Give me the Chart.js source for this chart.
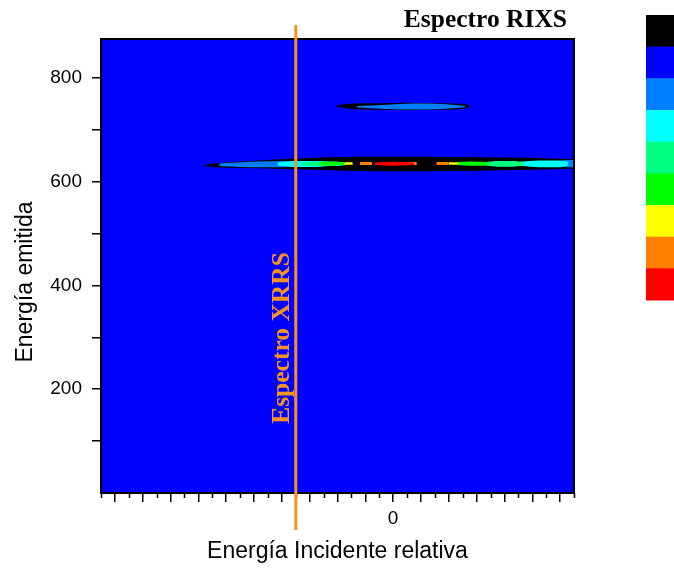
<!DOCTYPE html>
<html>
<head>
<meta charset="utf-8">
<script src="https://cdn.jsdelivr.net/npm/chart.js@4.4.1/dist/chart.umd.min.js"></script>
<style>
  html, body { margin: 0; padding: 0; background: #fff; }
</style>
</head>
<body>
<canvas id="rixsMap" width="674" height="569"></canvas>
<script>
// axis ticks
const yTicks = [100, 200, 300, 400, 500, 600, 700, 800];
const yLabels = [200, 400, 600, 800];
const xMajor = [-20, -18, -16, -14, -12, -10, -8, -6, -4, -2, 0, 2, 4, 6, 8, 10, 12];
const xMinor = [-21, -19, -17, -15, -13, -11, -9, -7, -5, -3, -1, 1, 3, 5, 7, 9, 11, 13];
const xLabels = [0];
const xrrsCut = -7;

// contour level colours (colour scale, top to bottom)
const levelColors = ['#000000', '#0000ff', '#0080ff', '#00ffff', '#00ff80', '#00ff00', '#ffff00', '#ff8000', '#ff0000'];

// upper feature (~745)
const upX = [-4.1, -3.1, -1, 1, 3.3, 5.3, 5.5];
const upTop = [746.5, 750, 751, 752, 751, 749, 746];
const upBot = [745, 740.5, 738.5, 737.5, 738.5, 742, 745];
const upInX = [-2.6, -0.5, 1.5, 3.5, 5.2];
const upInTop = [746, 748.5, 750.5, 749.5, 746];
const upInBot = [743, 740, 739, 740, 743.5];

// main band (~635)
const mainX = [-13.6, -12.8, -11.8, -9.6, -7.4, -4.6, -1.0, 2.6, 6.2, 9.8, 13];
const mainTop = [632, 635, 638, 641, 644, 647, 648, 648, 647, 646, 643];
const mainBot = [630, 628, 627, 626, 624, 622, 620, 620, 621, 623, 625];

const lbLeftX = [-12.5, -11, -9.5, -8, -6.5];
const lbLeftTop = [635, 637.5, 639, 640, 640];
const lbLeftBot = [630, 628.5, 628, 628, 629];
const lbRightX = [11.8, 12.4, 13];
const lbRightTop = [638, 642, 642];
const lbRightBot = [631, 628, 628];

const cyLeftX = [-8.3, -7, -5.5, -4.3];
const cyLeftTop = [637, 640, 640, 638];
const cyLeftBot = [631, 628.5, 628.5, 631];
const cyRightX = [9, 10.5, 12, 12.6];
const cyRightTop = [638, 641, 641, 638];
const cyRightBot = [631, 628, 628, 631];

const sfLeftX = [-6.6, -5.5, -4.2, -3.4];
const sfLeftTop = [637, 639, 639, 637];
const sfLeftBot = [632, 630, 630, 632];
const sfRightX = [6.6, 7.6, 8.6, 9.4];
const sfRightTop = [638, 640, 640, 638];
const sfRightBot = [631, 629, 629, 631];

const grLeftX = [-5.3, -4.3, -3.5];
const grLeftTop = [638, 638.5, 637];
const grLeftBot = [632, 631, 632];
const grRightX = [4.6, 5.6, 6.8];
const grRightTop = [638, 639, 638];
const grRightBot = [632, 630.5, 631];

const yeLeftX = [-3.5, -2.9];
const yeRightX = [4.0, 4.7];
const yeTop = [637.5, 637.5];
const yeBot = [632.5, 632.5];

const orX1 = [-2.4, -1.5];
const orX2 = [1.0, 1.7];
const orX3 = [3.1, 4.0];
const orTop = [638, 638];
const orBot = [632, 632];

const redX = [-1.3, 0, 1.5];
const redTop = [637, 638.5, 637];
const redBot = [632, 630.5, 632];

// outer levels first, inner levels last (drawn on top)
const patches = [
  [0, upX, upTop, upBot],
  [2, upInX, upInTop, upInBot],
  [0, mainX, mainTop, mainBot],
  [2, lbLeftX, lbLeftTop, lbLeftBot],
  [2, lbRightX, lbRightTop, lbRightBot],
  [3, cyLeftX, cyLeftTop, cyLeftBot],
  [3, cyRightX, cyRightTop, cyRightBot],
  [4, sfLeftX, sfLeftTop, sfLeftBot],
  [4, sfRightX, sfRightTop, sfRightBot],
  [5, grLeftX, grLeftTop, grLeftBot],
  [5, grRightX, grRightTop, grRightBot],
  [6, yeLeftX, yeTop, yeBot],
  [6, yeRightX, yeTop, yeBot],
  [7, orX1, orTop, orBot],
  [7, orX2, orTop, orBot],
  [7, orX3, orTop, orBot],
  [8, redX, redTop, redBot]
];

let datasets = [];
patches.forEach(function (p, i) {
  let col = levelColors[p[0]];
  let common = {
    borderWidth: 0,
    pointRadius: 0,
    cubicInterpolationMode: 'monotone',
    order: 100 - i
  };
  datasets.push(Object.assign({
    data: p[1].map((x, k) => ({ x: x, y: p[2][k] })),
    fill: '+1',
    backgroundColor: col,
    borderColor: col
  }, common));
  datasets.push(Object.assign({
    data: p[1].map((x, k) => ({ x: x, y: p[3][k] })),
    fill: false,
    borderColor: col
  }, common));
});

const SANS = '"Liberation Sans", Arial, sans-serif';
const SERIF = '"Liberation Serif", "Times New Roman", serif';

const decorations = {
  id: 'decorations',
  beforeDraw(chart) {
    let a = chart.chartArea, c = chart.ctx;
    c.save();
    c.fillStyle = '#0000ff';
    c.fillRect(a.left, a.top, a.right - a.left, a.bottom - a.top);
    c.restore();
  },
  afterDraw(chart) {
    let a = chart.chartArea, c = chart.ctx;
    let xs = chart.scales.x;
    c.save();

    // frame
    c.strokeStyle = '#000';
    c.lineWidth = 2;
    c.strokeRect(a.left, a.top, a.right - a.left, a.bottom - a.top);

    // minor ticks on x
    c.lineWidth = 1.5;
    c.beginPath();
    xMinor.forEach(function (v) {
      let px = Math.round(xs.getPixelForValue(v)) + 0.5;
      c.moveTo(px, a.bottom);
      c.lineTo(px, a.bottom + 5);
    });
    c.stroke();

    // XRRS cut
    let cx = xs.getPixelForValue(xrrsCut);
    c.strokeStyle = '#f7931e';
    c.lineWidth = 3;
    c.beginPath();
    c.moveTo(cx, 25);
    c.lineTo(cx, 530);
    c.stroke();

    c.fillStyle = '#f7931e';
    c.font = 'bold 25.5px ' + SERIF;
    c.textAlign = 'center';
    c.textBaseline = 'middle';
    c.translate(cx - 13, 338);
    c.rotate(-Math.PI / 2);
    c.fillText('Espectro XRRS', 0, 0);
    c.setTransform(1, 0, 0, 1, 0, 0);

    c.fillStyle = '#000';
    c.textAlign = 'right';
    c.textBaseline = 'alphabetic';
    c.fillText('Espectro RIXS', a.right - 7, 27);

    // y axis title
    c.font = '23px ' + SANS;
    c.textAlign = 'center';
    c.textBaseline = 'middle';
    c.translate(26, 282);
    c.rotate(-Math.PI / 2);
    c.fillText('Energía emitida', 0, 0);
    c.setTransform(1, 0, 0, 1, 0, 0);

    // colour scale
    let h = 285 / levelColors.length;
    levelColors.forEach(function (col, i) {
      c.fillStyle = col;
      c.fillRect(646, 15 + i * h, 30, h + 0.5);
    });
    c.restore();
  }
};

new Chart(document.getElementById('rixsMap'), {
  type: 'line',
  data: { datasets: datasets },
  options: {
    responsive: false,
    animation: false,
    layout: { padding: { top: 39, right: 100, left: 0, bottom: 0 } },
    plugins: {
      legend: { display: false },
      tooltip: { enabled: false }
    },
    scales: {
      x: {
        type: 'linear',
        min: -21,
        max: 13,
        afterBuildTicks: (s) => { s.ticks = xMajor.map(v => ({ value: v })); },
        afterFit: (s) => { s.height = 76; },
        border: { display: true, color: '#000', width: 2 },
        grid: { drawOnChartArea: false, color: '#000', lineWidth: 1.5, tickLength: 9 },
        ticks: {
          color: '#000',
          padding: 5,
          maxRotation: 0,
          autoSkip: false,
          font: { family: SANS, size: 19 },
          callback: (v) => xLabels.includes(v) ? String(v) : ''
        },
        title: {
          display: true,
          text: 'Energía Incidente relativa',
          color: '#000',
          font: { family: SANS, size: 23 },
          padding: { top: 0, bottom: 4 }
        }
      },
      y: {
        min: 0,
        max: 875,
        afterBuildTicks: (s) => { s.ticks = yTicks.map(v => ({ value: v })); },
        afterFit: (s) => { s.width = 101; },
        border: { display: true, color: '#000', width: 2 },
        grid: { drawOnChartArea: false, color: '#000', lineWidth: 1.5, tickLength: 9 },
        ticks: {
          color: '#000',
          padding: 10,
          autoSkip: false,
          font: { family: SANS, size: 19 },
          callback: (v) => yLabels.includes(v) ? String(v) : ''
        }
      }
    }
  },
  plugins: [decorations]
});
</script>
</body>
</html>
